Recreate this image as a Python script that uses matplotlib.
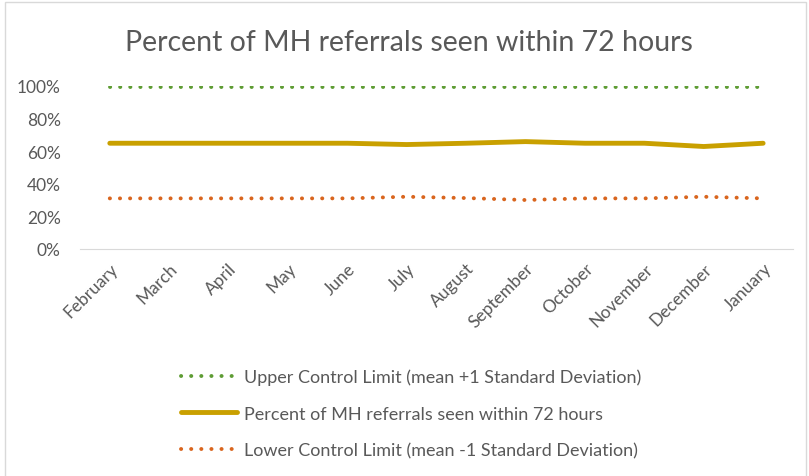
import matplotlib.pyplot as plt
from matplotlib.patches import Rectangle

months = ['February', 'March', 'April', 'May', 'June', 'July', 'August',
          'September', 'October', 'November', 'December', 'January']
upper = [0.995] * 12
percent_seen = [0.648, 0.648, 0.648, 0.648, 0.648, 0.64, 0.648, 0.658, 0.648, 0.648, 0.628, 0.648]
lower = [0.31, 0.31, 0.31, 0.31, 0.31, 0.32, 0.312, 0.3, 0.31, 0.31, 0.32, 0.31]

labels = ['Upper Control Limit (mean +1 Standard Deviation)',
          'Percent of MH referrals seen within 72 hours',
          'Lower Control Limit (mean -1 Standard Deviation)']

plt.rcParams['font.family'] = ['Lato', 'DejaVu Sans']
grey = '#595959'

fig = plt.figure(figsize=(8.09, 4.77), dpi=100)
fig.patches.append(Rectangle((0.006, -0.01), 0.99, 1.003, transform=fig.transFigure,
                             fill=False, edgecolor='#d9d9d9', linewidth=1))
ax = fig.add_axes([0.099, 0.476, 0.881, 0.342])

dots = (0, (0.05, 2.55))
x = range(len(months))
l1, = ax.plot(x, upper, color='#5E9C34', linewidth=2.8, linestyle=dots,
              dash_capstyle='round')
l2, = ax.plot(x, percent_seen, color='#C9A000', linewidth=3.5, solid_capstyle='round')
l3, = ax.plot(x, lower, color='#D9651E', linewidth=2.8, linestyle=dots,
              dash_capstyle='round')

ax.set_xlim(-0.5, len(months) - 0.5)
ax.set_ylim(0, 1.0)
ax.set_yticks([0, 0.2, 0.4, 0.6, 0.8, 1.0])
ax.set_yticklabels(['0%', '20%', '40%', '60%', '80%', '100%'])
ax.set_xticks(list(x))
ax.set_xticklabels(months, rotation=45, ha='right', rotation_mode='anchor')
ax.tick_params(axis='both', colors=grey, labelsize=12.5, length=0)
ax.tick_params(axis='x', pad=8)
ax.tick_params(axis='y', pad=14)
for s in ['top', 'right', 'left']:
    ax.spines[s].set_visible(False)
ax.spines['bottom'].set_color('#d9d9d9')

fig.text(0.505, 0.91, 'Percent of MH referrals seen within 72 hours',
         ha='center', va='center', fontsize=20.5, color=grey)

leg = fig.legend([l1, l2, l3], labels, loc='center', bbox_to_anchor=(0.508, 0.131),
                 frameon=False, fontsize=13, labelspacing=1.15, handlelength=3.1,
                 handletextpad=0.4)
for t in leg.get_texts():
    t.set_color(grey)

fig.savefig('out.png', dpi=100)
